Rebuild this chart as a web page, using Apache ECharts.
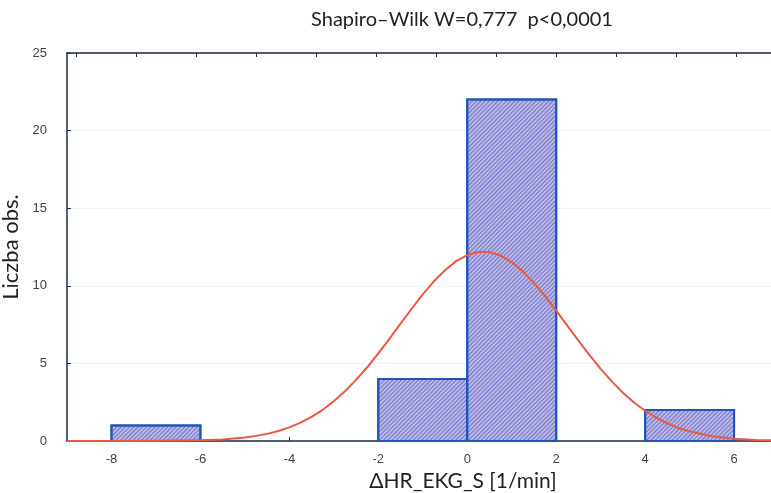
<!DOCTYPE html>
<html>
<head>
<meta charset="utf-8">
<script src="https://cdn.jsdelivr.net/npm/echarts@6/dist/echarts.min.js"></script>
<style>
  html, body { margin: 0; padding: 0; background: #fff; }
  #main { width: 771px; height: 493px; }
</style>
</head>
<body>
<div id="main"></div>
<script>
// histogram bins (start of each 2-wide bin) and counts
var binStart = [-8, -6, -4, -2, 0, 2, 4];
var binWidth = 2;
var counts = [1, 0, 0, 4, 22, 0, 2];

// fitted normal curve
var curveX = [-9, -8, -7, -6, -5.5, -5, -4.75, -4.5, -4.25, -4, -3.75, -3.5, -3.25, -3, -2.75, -2.5, -2.25, -2, -1.75, -1.5, -1.25, -1, -0.75, -0.5, -0.25,
  0, 0.25, 0.5, 0.75, 1, 1.25, 1.5, 1.75, 2, 2.25, 2.5, 2.75, 3, 3.25, 3.5, 3.75, 4, 4.25, 4.5, 4.75, 5, 5.5, 6, 6.5, 7];
var curveY = [0, 0, 0.01, 0.05, 0.1, 0.23, 0.33, 0.46, 0.64, 0.88, 1.18, 1.55, 2.01, 2.56, 3.2, 3.94, 4.75, 5.64, 6.58, 7.56, 8.52, 9.45, 10.29, 11.0, 11.59,
  11.98, 12.18, 12.17, 11.95, 11.53, 10.93, 10.19, 9.34, 8.4, 7.44, 6.47, 5.53, 4.65, 3.84, 3.11, 2.48, 1.95, 1.5, 1.14, 0.84, 0.62, 0.31, 0.15, 0.07, 0.03];

var xTicks = [-8, -6, -4, -2, 0, 2, 4, 6];
var topTicks = [0, 1, 2, 3, 4, 5, 6, 7, 8, 9, 10, 11];

var axisColor = '#1b2a48';
var labelStyle = { color: '#444', fontSize: 13, fontFamily: 'Liberation Sans' };
var hatch = {
  symbol: 'rect', dashArrayX: [1, 0], dashArrayY: [1, 2],
  rotation: -Math.PI / 4, color: '#7472c8'
};

var bars = binStart.map(function (s, i) { return [s, s + binWidth, counts[i]]; })
  .filter(function (d) { return d[2] > 0; });
var curve = curveX.map(function (x, i) { return [x, curveY[i]]; });

var chart = echarts.init(document.getElementById('main'));
chart.setOption({
  animation: false,
  title: {
    text: 'Shapiro\u2013Wilk W=0,777  p<0,0001',
    left: 457, top: 5, textAlign: 'center',
    textStyle: { fontFamily: 'Lato', fontWeight: 'normal', fontSize: 20, color: '#222' }
  },
  grid: { left: 67, right: 0, top: 53, bottom: 52, outerBoundsMode: 'none', containLabel: false },
  xAxis: [{
    type: 'value', min: -9, max: 6.83,
    name: '\u0394HR_EKG_S [1/min]', nameLocation: 'middle', nameGap: 28,
    nameTextStyle: { fontFamily: 'Lato', fontSize: 21, color: '#222', padding: [0, 0, 0, 88] },
    axisLine: { show: true, onZero: false, lineStyle: { color: axisColor, width: 1.5 } },
    axisTick: { show: true, inside: true, length: 4, customValues: xTicks, lineStyle: { color: axisColor } },
    axisLabel: Object.assign({ customValues: xTicks, margin: 12 }, labelStyle),
    splitLine: { show: false }
  }, {
    type: 'value', position: 'top', min: -0.15, max: 11.58,
    axisLine: { show: true, onZero: false, lineStyle: { color: axisColor, width: 1.5 } },
    axisTick: { show: true, inside: true, length: 4, customValues: topTicks, lineStyle: { color: axisColor } },
    axisLabel: { show: false },
    splitLine: { show: false }
  }],
  yAxis: {
    type: 'value', min: 0, max: 25, interval: 5,
    name: 'Liczba obs.', nameLocation: 'middle', nameGap: 38, nameRotate: 90,
    nameTextStyle: { fontFamily: 'Lato', fontSize: 22, color: '#222' },
    axisLine: { show: true, onZero: false, lineStyle: { color: axisColor, width: 1.5 } },
    axisTick: { show: true, inside: true, length: 4, lineStyle: { color: axisColor } },
    axisLabel: Object.assign({ margin: 20 }, labelStyle),
    splitLine: { show: true, lineStyle: { color: '#eef3f8', width: 1 } }
  },
  series: [{
    type: 'custom',
    xAxisIndex: 0,
    data: bars,
    renderItem: function (params, api) {
      var p0 = api.coord([api.value(0), api.value(2)]);
      var p1 = api.coord([api.value(1), 0]);
      return {
        type: 'rect',
        shape: { x: p0[0], y: p0[1], width: p1[0] - p0[0], height: p1[1] - p0[1] },
        style: api.style({ fill: '#bab8e6', stroke: '#1f55b8', lineWidth: 2, decal: hatch })
      };
    },
    itemStyle: { color: '#bab8e6', borderColor: '#1f55b8', borderWidth: 2, decal: hatch },
    z: 2
  }, {
    type: 'line',
    xAxisIndex: 0,
    data: curve,
    smooth: false,
    showSymbol: false,
    lineStyle: { color: '#ea5a3f', width: 2, join: 'round' },
    z: 3
  }]
});
</script>
</body>
</html>
